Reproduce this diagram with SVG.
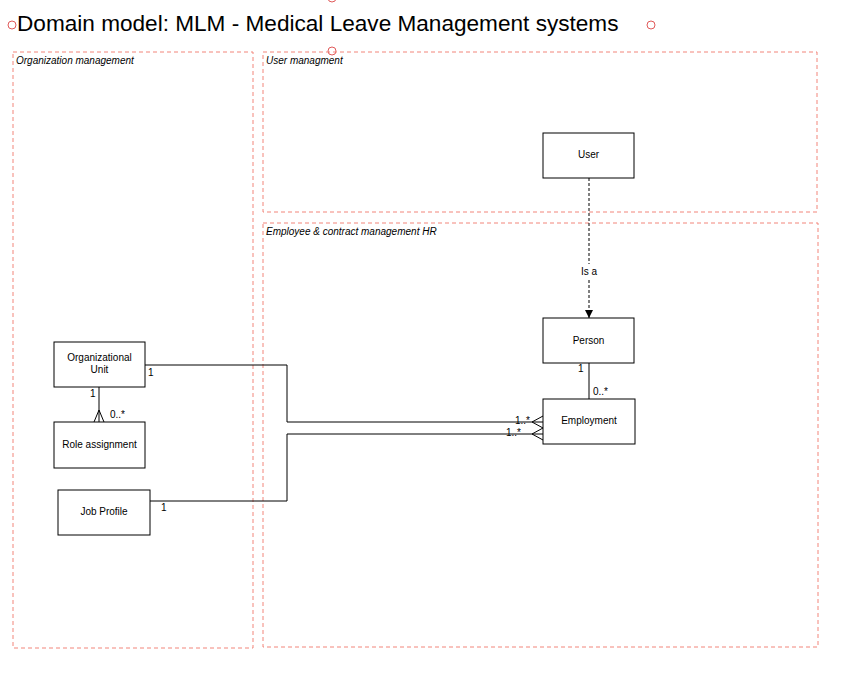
<svg xmlns="http://www.w3.org/2000/svg" width="859" height="673" viewBox="0 0 859 673">
<style>
.frame{fill:none;stroke:#f2857a;stroke-width:1;stroke-dasharray:4,3}
.flabel{font-family:"Liberation Sans",Arial,sans-serif;font-size:10px;font-style:italic;fill:#000}
.box{fill:#fff;stroke:#000;stroke-width:1}
.lbl{font-family:"Liberation Sans",Arial,sans-serif;font-size:10px;fill:#000;text-anchor:middle}
.mult{font-family:"Liberation Sans",Arial,sans-serif;font-size:10px;fill:#000}
.ln{fill:none;stroke:#000;stroke-width:1}
.hnd{fill:none;stroke:#e05a5a;stroke-width:1}
</style>
<defs>
<marker id="arr" viewBox="0 0 10 10" refX="10" refY="5" markerWidth="8" markerHeight="8" orient="auto" markerUnits="userSpaceOnUse">
<path d="M0,0 L10,5 L0,10 z" fill="#000"/>
</marker>
</defs>
<rect width="859" height="673" fill="#fff"/>
<g id="title">
<text x="17" y="31" font-family="Liberation Sans,Arial,sans-serif" font-size="22.6" fill="#000">Domain model: MLM - Medical Leave Management systems</text>
<circle class="hnd" cx="12" cy="25" r="4"/>
<circle class="hnd" cx="651" cy="25" r="4"/>
<circle class="hnd" cx="332" cy="51" r="4"/>
<circle class="hnd" cx="332" cy="-2" r="4"/>
</g>
<g id="frame-org">
<rect class="frame" x="13" y="52" width="240" height="596"/>
<text class="flabel" x="16" y="64">Organization management</text>
</g>
<g id="frame-user">
<rect class="frame" x="263" y="52" width="554" height="160"/>
<text class="flabel" x="266" y="64">User managment</text>
</g>
<g id="frame-hr">
<rect class="frame" x="263" y="223" width="555" height="424"/>
<text class="flabel" x="266" y="235">Employee &amp; contract management HR</text>
</g>
<g id="connectors">
<line x1="589" y1="178" x2="589" y2="264" class="ln" stroke-dasharray="3,2"/>
<line x1="589" y1="280" x2="589" y2="318" class="ln" stroke-dasharray="3,2" marker-end="url(#arr)"/>
<text class="lbl" x="589" y="275">Is a</text>
<line x1="589" y1="363" x2="589" y2="399" class="ln"/>
<text class="mult" x="578" y="372">1</text>
<text class="mult" x="593" y="395">0..*</text>
<line x1="99" y1="387" x2="99" y2="422" class="ln"/>
<path class="ln" d="M94,422 L99,410 L104,422"/>
<text class="mult" x="90" y="397">1</text>
<text class="mult" x="110" y="418">0..*</text>
<polyline class="ln" points="145,365 287,365 287,422 543,422"/>
<path class="ln" d="M543,416 L532,422 L543,428"/>
<text class="mult" x="148" y="376">1</text>
<text class="mult" x="515" y="424">1..*</text>
<polyline class="ln" points="150,501 287,501 287,434 543,434"/>
<path class="ln" d="M543,428 L532,434 L543,440"/>
<text class="mult" x="161" y="511">1</text>
<text class="mult" x="506" y="436">1..*</text>
</g>
<g id="user"><rect class="box" x="543" y="133" width="91" height="45"/><text class="lbl" x="588.5" y="158">User</text></g>
<g id="person"><rect class="box" x="543" y="318" width="91" height="45"/><text class="lbl" x="588.5" y="344">Person</text></g>
<g id="employment"><rect class="box" x="543" y="399" width="92" height="45"/><text class="lbl" x="589" y="424">Employment</text></g>
<g id="orgunit"><rect class="box" x="54" y="342" width="91" height="45"/><text class="lbl" x="99.5" y="361">Organizational</text><text class="lbl" x="99.5" y="373">Unit</text></g>
<g id="role"><rect class="box" x="54" y="422" width="91" height="46"/><text class="lbl" x="99.5" y="448">Role assignment</text></g>
<g id="jobprofile"><rect class="box" x="58" y="490" width="92" height="45"/><text class="lbl" x="104" y="515">Job Profile</text></g>
</svg>
